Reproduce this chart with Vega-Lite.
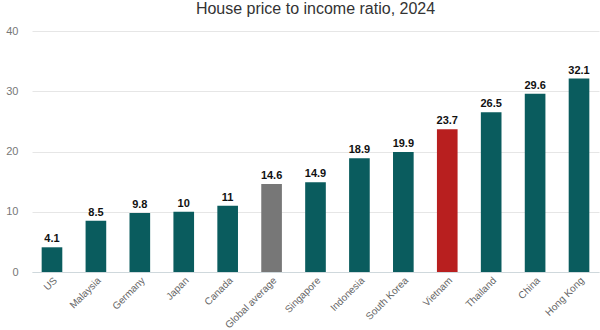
{
  "$schema": "https://vega.github.io/schema/vega-lite/v6.json",
  "autosize": "none",
  "width": 567,
  "height": 241,
  "padding": {"left": 32, "top": 31, "right": 1, "bottom": 58},
  "background": "white",
  "config": {"view": {"stroke": null}},
  "title": {"text": "House price to income ratio, 2024", "fontSize": 16, "font": "Liberation Sans", "fontWeight": "normal", "color": "#333333", "anchor": "middle", "offset": 8},
  "data": {"values": [
    {"country": "US", "value": 4.1, "label": "4.1", "type": "c"},
    {"country": "Malaysia", "value": 8.5, "label": "8.5", "type": "c"},
    {"country": "Germany", "value": 9.8, "label": "9.8", "type": "c"},
    {"country": "Japan", "value": 10, "label": "10", "type": "c"},
    {"country": "Canada", "value": 11, "label": "11", "type": "c"},
    {"country": "Global average", "value": 14.6, "label": "14.6", "type": "g"},
    {"country": "Singapore", "value": 14.9, "label": "14.9", "type": "c"},
    {"country": "Indonesia", "value": 18.9, "label": "18.9", "type": "c"},
    {"country": "South Korea", "value": 19.9, "label": "19.9", "type": "c"},
    {"country": "Vietnam", "value": 23.7, "label": "23.7", "type": "v"},
    {"country": "Thailand", "value": 26.5, "label": "26.5", "type": "c"},
    {"country": "China", "value": 29.6, "label": "29.6", "type": "c"},
    {"country": "Hong Kong", "value": 32.1, "label": "32.1", "type": "c"}
  ]},
  "encoding": {
    "x": {"field": "country", "type": "nominal", "sort": null,
      "scale": {"paddingInner": 0.53, "paddingOuter": 0.22},
      "axis": {"title": null, "labelAngle": -45, "labelFont": "Liberation Sans", "labelFontSize": 10, "labelColor": "#666666", "ticks": false, "domainColor": "#cfd8dc", "labelPadding": 3}},
    "y": {"field": "value", "type": "quantitative",
      "scale": {"domain": [0, 40]},
      "axis": {"title": null, "values": [0, 10, 20, 30, 40], "domain": false, "ticks": false, "gridColor": "#e6e6e6", "labelFont": "Liberation Sans", "labelFontSize": 11, "labelColor": "#777777", "labelPadding": 14}}
  },
  "layer": [
    {"mark": {"type": "bar"},
     "encoding": {"color": {"field": "type", "type": "nominal", "legend": null,
       "scale": {"domain": ["c", "g", "v"], "range": ["#0a5c5e", "#777777", "#b81f1f"]}}}},
    {"mark": {"type": "text", "dy": -8, "font": "Liberation Sans", "fontSize": 11, "fontWeight": "bold", "color": "#111111"},
     "encoding": {"text": {"field": "label"}}}
  ]
}
